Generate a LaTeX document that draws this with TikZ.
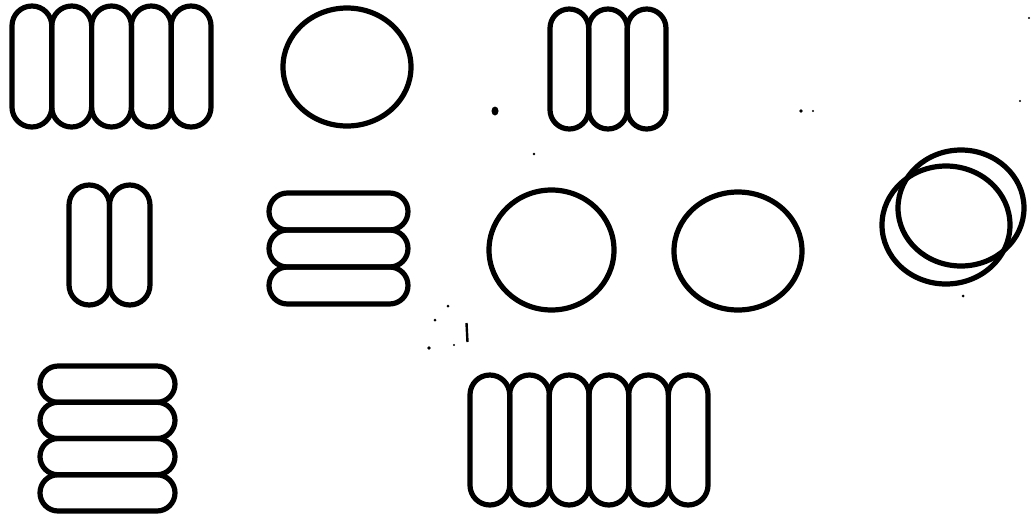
\documentclass[tikz,border=0pt]{standalone}
\begin{document}
\begin{tikzpicture}[x=1pt,y=-1pt,
  outline/.style={draw=black,line width=5.2pt},
  speck/.style={fill=black}]
\useasboundingbox (0,0) rectangle (1034,515);
\fill[white] (0,0) rectangle (1034,515);
% group 1: five vertical capsules
\foreach \i in {0,...,4}
  \draw[outline,rounded corners=19.85pt] ({12+39.8*\i},6) rectangle ++(39.8,121);
% circle top
\draw[outline] (347,67) ellipse [x radius=64pt, y radius=59pt];
% group 2: three vertical capsules
\foreach \i in {0,...,2}
  \draw[outline,rounded corners=19.3pt] ({550+38.67*\i},9) rectangle ++(38.67,120);
% group 3: two vertical capsules
\foreach \i in {0,1}
  \draw[outline,rounded corners=20.2pt] ({69+40.5*\i},185) rectangle ++(40.5,120);
% group 4: three horizontal capsules
\foreach \i in {0,...,2}
  \draw[outline,rounded corners=18.45pt] (269,{193+37*\i}) rectangle ++(139,37);
% circles row 2
\draw[outline] (551.5,250) ellipse [x radius=62.5pt, y radius=60pt];
\draw[outline] (738,251) ellipse [x radius=64pt, y radius=59pt];
\draw[outline] (961,208) ellipse [x radius=63pt, y radius=58pt];
\draw[outline] (946,225) ellipse [x radius=64pt, y radius=59pt];
% group 5: four horizontal capsules
\foreach \i in {0,...,3}
  \draw[outline,rounded corners=18.1pt] (40,{366+36.25*\i}) rectangle ++(135,36.25);
% group 6: six vertical capsules
\foreach \i in {0,...,5}
  \draw[outline,rounded corners=19.8pt] ({470+39.67*\i},375) rectangle ++(39.67,130);
% scan specks
\fill[speck] (495,111) ellipse [x radius=3.5pt, y radius=4.5pt];
\draw[line width=2.4pt] (466.5,323) -- (467.5,342);
\fill[speck] (801,111) circle (1.8pt);
\fill[speck] (813,111) circle (1.2pt);
\fill[speck] (1020,101) circle (1.2pt);
\fill[speck] (534,154) circle (1.4pt);
\fill[speck] (435,320) circle (1.5pt);
\fill[speck] (448,306) circle (1.5pt);
\fill[speck] (429,348) circle (1.8pt);
\fill[speck] (454,345) circle (1.2pt);
\fill[speck] (963,296) circle (1.5pt);
\fill[speck] (1029,18) circle (1.2pt);
\end{tikzpicture}
\end{document}
